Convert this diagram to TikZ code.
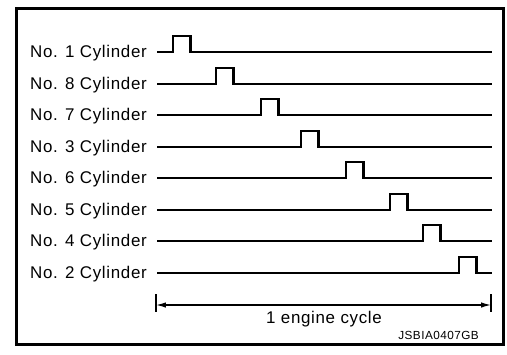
\documentclass[tikz,border=0pt]{standalone}
\usepackage{fontspec}
\setmainfont{Liberation Sans}[LetterSpace=4]
\usetikzlibrary{arrows.meta}
\begin{document}
\begin{tikzpicture}[x=1bp,y=-1bp,
  frame/.style={line width=3bp},
  lab/.style={anchor=base east, inner sep=0pt, font=\fontsize{17}{19}\selectfont},
  sig/.style={line width=2.6bp, line join=miter},
  dim/.style={line width=1.3bp},
  dimarrow/.style={line width=1.3bp, {Latex[length=10pt,width=5.5pt]}-{Latex[length=10pt,width=5.5pt]}},
  cyc/.style={anchor=base, inner sep=0pt, font=\fontsize{17}{19}\selectfont},
  code/.style={anchor=base east, inner sep=0pt, font=\fontsize{11.8}{13}\selectfont}]
\useasboundingbox (0,0) rectangle (507,354);
\draw[frame] (16,8) rectangle (503,344);
\foreach \n/\y/\p in {1/52/173, 8/84/216, 7/115/261, 3/147/301, 6/178/346, 5/210/390, 4/241/423, 2/273/459}{
  \node[lab] (l\n) at (147,\y+5.5) {No. \n\ Cylinder};
  \coordinate (s\n) at (157,\y);
  \coordinate (e\n) at (492,\y);
  \draw[sig] (s\n) -- (\p,\y) -- (\p,\y-16) -- (\p+17.5,\y-16) -- (\p+17.5,\y) -- (e\n);
}
\coordinate (al) at (156,305);
\coordinate (ar) at (491,305);
\draw[dim] (156,294) -- (156,312);
\draw[dim] (491,294) -- (491,312);
\draw[dimarrow] (al) -- (ar);
\node[cyc] (cycle) at (324,323.5) {1 engine cycle};
\node[code] (code) at (479,339) {JSBIA0407GB};
\end{tikzpicture}
\end{document}
